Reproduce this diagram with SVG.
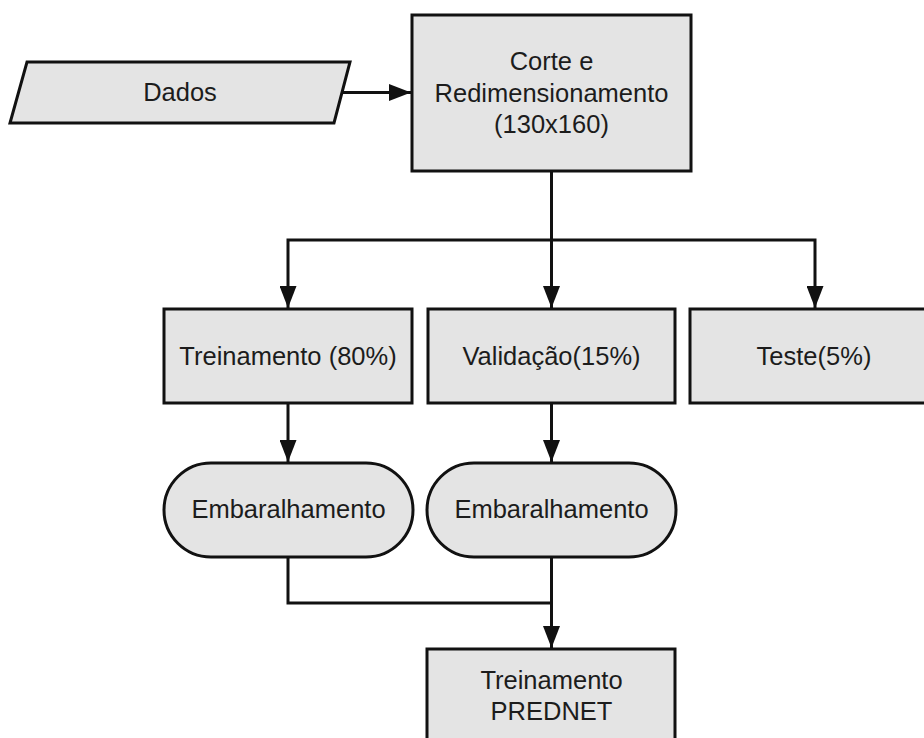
<svg xmlns="http://www.w3.org/2000/svg" width="924" height="738" viewBox="0 0 924 738">
  <style>
    .box { fill: #e4e4e4; stroke: #111; stroke-width: 3; }
    .lbl { font-family: "Liberation Sans", Arial, sans-serif; font-size: 25.5px; fill: #1c1c1c; text-anchor: middle; }
    .wire { fill: none; stroke: #111; stroke-width: 3; }
  </style>
  <defs>
    <marker id="arrow" markerUnits="userSpaceOnUse" markerWidth="22" markerHeight="17" refX="22" refY="8.5" orient="auto">
      <path d="M0,0 L22,8.5 L0,17 Z" fill="#111"/>
    </marker>
  </defs>

  <rect width="924" height="738" fill="#fff"/>

  <!-- Connectors -->
  <g id="connectors">
    <path class="wire" d="M342,92.5 H411" marker-end="url(#arrow)"/>
    <path class="wire" d="M551.5,171 V308" marker-end="url(#arrow)"/>
    <path class="wire" d="M551.5,240 H288 V308" marker-end="url(#arrow)"/>
    <path class="wire" d="M551.5,240 H815 V308" marker-end="url(#arrow)"/>
    <path class="wire" d="M288,403 V462" marker-end="url(#arrow)"/>
    <path class="wire" d="M551.5,403 V462" marker-end="url(#arrow)"/>
    <path class="wire" d="M288,557 V603 H551.5"/>
    <path class="wire" d="M551.5,557 V648" marker-end="url(#arrow)"/>
  </g>

  <!-- Input data -->
  <g id="dados">
    <polygon class="box" points="27,62 350,62 334,123 10,123"/>
    <text class="lbl" x="180" y="101">Dados</text>
  </g>

  <!-- Crop and resize -->
  <g id="corte">
    <rect class="box" x="412" y="15" width="279" height="156"/>
    <text class="lbl" x="551.5" y="70">Corte e</text>
    <text class="lbl" x="551.5" y="102">Redimensionamento</text>
    <text class="lbl" x="551.5" y="133">(130x160)</text>
  </g>

  <!-- Dataset split -->
  <g id="treinamento">
    <rect class="box" x="164" y="309" width="248" height="94"/>
    <text class="lbl" x="288" y="365">Treinamento (80%)</text>
  </g>
  <g id="validacao">
    <rect class="box" x="428" y="309" width="247" height="94"/>
    <text class="lbl" x="551.5" y="365">Validação(15%)</text>
  </g>
  <g id="teste">
    <rect class="box" x="690" y="309" width="250" height="94"/>
    <text class="lbl" x="814" y="365">Teste(5%)</text>
  </g>

  <!-- Shuffling -->
  <g id="embaralhamento-treino">
    <rect class="box" x="164" y="463" width="249" height="94" rx="47" ry="47"/>
    <text class="lbl" x="288.5" y="518">Embaralhamento</text>
  </g>
  <g id="embaralhamento-validacao">
    <rect class="box" x="427" y="463" width="249" height="94" rx="47" ry="47"/>
    <text class="lbl" x="551.5" y="518">Embaralhamento</text>
  </g>

  <!-- Network training -->
  <g id="treinamento-prednet">
    <rect class="box" x="427" y="649" width="248" height="100"/>
    <text class="lbl" x="551.5" y="689">Treinamento</text>
    <text class="lbl" x="551.5" y="720">PREDNET</text>
  </g>
</svg>
